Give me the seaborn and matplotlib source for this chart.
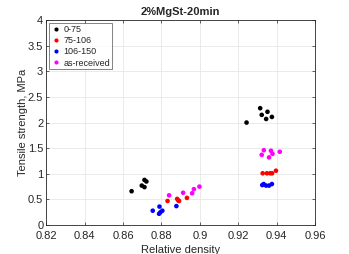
import numpy as np
import pandas as pd
import matplotlib
matplotlib.use("Agg")
import matplotlib.pyplot as plt
import seaborn as sns

# ==========================================
# DATA
# ==========================================

groups = ["0-75", "75-106", "106-150", "as-received"]
colors = ["black", "red", "blue", "magenta"]

x_075 = [0.8645, 0.8698, 0.8712, 0.8712, 0.8722,
         0.9243, 0.9314, 0.9322, 0.9352, 0.9345, 0.9375]
y_075 = [0.66, 0.77, 0.74, 0.88, 0.85,
         2.00, 2.28, 2.15, 2.21, 2.07, 2.11]

x_75106 = [0.8832, 0.8882, 0.8888, 0.8892, 0.8933,
           0.9327, 0.9349, 0.9366, 0.9376, 0.9396]
y_75106 = [0.47, 0.51, 0.48, 0.47, 0.53,
           1.01, 1.01, 1.01, 1.01, 1.06]

x_106150 = [0.8755, 0.8790, 0.8805, 0.8788, 0.8795, 0.8878,
            0.9325, 0.9332, 0.9345, 0.9360, 0.9375]
y_106150 = [0.28, 0.36, 0.28, 0.22, 0.25, 0.37,
            0.78, 0.80, 0.77, 0.77, 0.80]

x_asrec = [0.8840, 0.8913, 0.8960, 0.8969, 0.8998,
           0.9322, 0.9333, 0.9370, 0.9378, 0.9360, 0.9416]
y_asrec = [0.58, 0.63, 0.62, 0.70, 0.75,
           1.37, 1.46, 1.45, 1.39, 1.32, 1.43]

x_ticks = [0.82, 0.84, 0.86, 0.88, 0.9, 0.92, 0.94, 0.96]
x_ticklabels = ["0.82", "0.84", "0.86", "0.88", "0.9", "0.92", "0.94", "0.96"]
y_ticks = [0, 0.5, 1, 1.5, 2, 2.5, 3, 3.5, 4]
y_ticklabels = ["0", "0.5", "1", "1.5", "2", "2.5", "3", "3.5", "4"]

df = pd.concat([
    pd.DataFrame({"x": x_075, "y": y_075, "group": groups[0]}),
    pd.DataFrame({"x": x_75106, "y": y_75106, "group": groups[1]}),
    pd.DataFrame({"x": x_106150, "y": y_106150, "group": groups[2]}),
    pd.DataFrame({"x": x_asrec, "y": y_asrec, "group": groups[3]}),
])

# ==========================================
# PLOT
# ==========================================

sns.set_style("white")
plt.rcParams["font.family"] = ["Liberation Sans", "DejaVu Sans"]

fig = plt.figure(figsize=(3.49, 2.54), dpi=100)
ax = fig.add_axes([0.132, 0.114, 0.771, 0.807])

sns.scatterplot(
    data=df, x="x", y="y", hue="group",
    hue_order=groups, palette=colors,
    s=11, linewidth=0, ax=ax
)

ax.set_xlim(0.82, 0.96)
ax.set_ylim(0, 4)
ax.set_xticks(x_ticks)
ax.set_xticklabels(x_ticklabels)
ax.set_yticks(y_ticks)
ax.set_yticklabels(y_ticklabels)
ax.grid(True, color="#e6e6e6", linewidth=0.6)
ax.set_axisbelow(True)
ax.tick_params(direction="in", length=2.5, width=0.5, labelsize=8,
               colors="#262626", top=True, right=True,
               bottom=True, left=True)
ax.tick_params(axis="x", pad=4)
ax.tick_params(axis="y", pad=2)
for sp in ax.spines.values():
    sp.set_visible(True)
    sp.set_color("#262626")
    sp.set_linewidth(0.6)

ax.set_xlabel("Relative density", fontsize=8, color="#262626", labelpad=3)
ax.set_ylabel("Tensile strength, MPa", fontsize=8, color="#262626", labelpad=0)
ax.set_title("2%MgSt-20min", fontsize=8, fontweight="bold", pad=4)

leg = ax.legend(loc="upper left", fontsize=6.5, frameon=True,
                handletextpad=0.2, borderpad=0.2, labelspacing=0.25,
                handlelength=1.2, fancybox=False, borderaxespad=0,
                bbox_to_anchor=(3 / 269, 1 - 3 / 205), markerscale=0.9)
leg.get_frame().set_edgecolor("#262626")
leg.get_frame().set_linewidth(0.5)

fig.savefig("out.png", dpi=100)
